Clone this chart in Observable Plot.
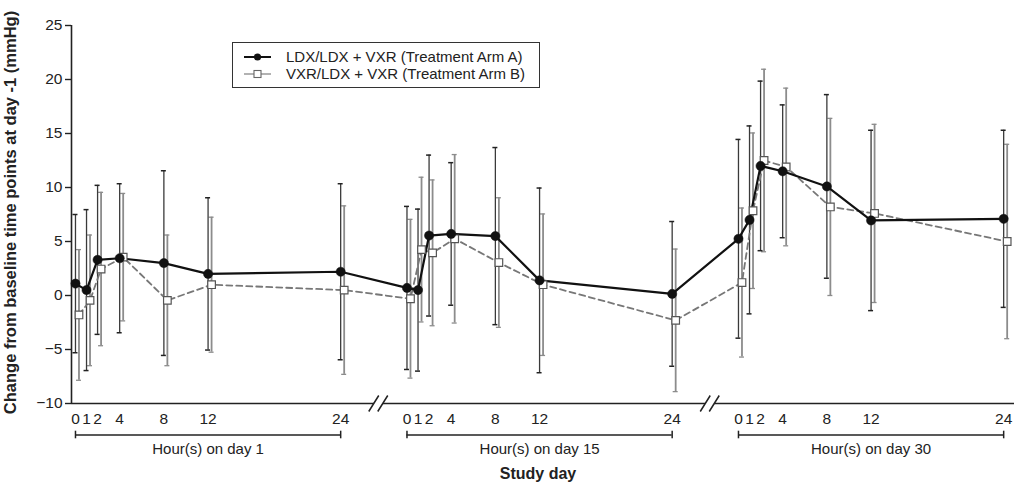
<!DOCTYPE html>
<html>
<head>
<meta charset="utf-8">
<script src="https://cdn.jsdelivr.net/npm/d3@7"></script>
<script src="https://cdn.jsdelivr.net/npm/@observablehq/plot@0.6"></script>
<style>
  body { margin: 0; background: #fff; font-family: "Liberation Sans", Arial, sans-serif; }
  #wrap { position: relative; width: 1014px; height: 488px; overflow: hidden; }
  #legend { position: absolute; left: 232px; top: 42px; width: 306px; height: 44px;
            border: 1.5px solid #333; background: #fff; }
  #legend .row { position: absolute; left: 0; height: 16px; line-height: 16px;
                 font-size: 15px; color: #222; white-space: nowrap; }
  #legend svg { position: absolute; left: 10px; top: 2px; }
  #legend span { position: absolute; left: 53px; top: 0; }
</style>
</head>
<body>
<div id="wrap"></div>
<script>
// ---- data ----
const hours = [0, 1, 2, 4, 8, 12, 24];
const studyDays = [1, 15, 30];
const panelOffsets = [0, 30, 60];      // hour-0 of each study day on the broken axis
const axisBreaks = [27.4, 57.4];       // "//" break marks on the broken axis
const armLabels = ["LDX/LDX + VXR (Treatment Arm A)", "VXR/LDX + VXR (Treatment Arm B)"];
const yTicks = [-10, -5, 0, 5, 10, 15, 20, 25];
const yLabel = "Change from baseline time points at day -1 (mmHg)";
const xLabel = "Study day";

// Arm A (mean, SD) — day 1, day 15, day 30
const armAMean = [
  1.1, 0.5, 3.3, 3.45, 3.0, 2.0, 2.2,
  0.7, 0.5, 5.55, 5.7, 5.5, 1.4, 0.15,
  5.25, 7.0, 12.0, 11.5, 10.1, 6.95, 7.1
];
const armASD = [
  6.4, 7.45, 6.9, 6.9, 8.55, 7.05, 8.15,
  7.55, 7.5, 7.45, 6.6, 8.2, 8.55, 6.7,
  9.2, 8.7, 7.85, 6.15, 8.5, 8.35, 8.2
];
// Arm B (mean, SD)
const armBMean = [
  -1.8, -0.45, 2.45, 3.55, -0.45, 1.0, 0.5,
  -0.3, 4.25, 3.95, 5.25, 3.05, 1.0, -2.3,
  1.2, 7.85, 12.5, 11.9, 8.2, 7.6, 5.0
];
const armBSD = [
  6.05, 6.05, 7.1, 5.9, 6.05, 6.25, 7.8,
  7.35, 6.7, 6.75, 7.8, 6.0, 6.55, 6.6,
  6.9, 7.2, 8.45, 7.3, 8.2, 8.25, 9.0
];

// ---- build tables ----
function buildRows(means, sds) {
  const rows = [];
  panelOffsets.forEach((off, p) => {
    hours.forEach((h, i) => {
      const k = p * hours.length + i;
      rows.push({x: off + h, hour: h, mean: means[k], lo: means[k] - sds[k], hi: means[k] + sds[k]});
    });
  });
  return rows;
}
const A = buildRows(armAMean, armASD);
const B = buildRows(armBMean, armBSD);
const panels = studyDays.map((d, p) => ({day: d, start: panelOffsets[p] + hours[0], end: panelOffsets[p] + hours[hours.length - 1]}));
const panelEnds = panels.flatMap(p => [p.start, p.end]);
const xTickValues = panelOffsets.flatMap(o => hours.map(h => o + h));
const tickLabel = new Map(panelOffsets.flatMap(o => hours.map(h => [o + h, String(h)])));

const xDomain = [-0.36, 84.98];
const yDomain = [yTicks[0], yTicks[yTicks.length - 1]];
const yMin = () => yDomain[0];

// custom symbols for the axis break "//"
const breakMask = {draw(ctx) { ctx.moveTo(-9.5, 8); ctx.lineTo(0.5, -8); ctx.lineTo(9.5, -8); ctx.lineTo(-0.5, 8); ctx.closePath(); }};
const breakSlashes = {draw(ctx) { ctx.moveTo(-9.5, 8); ctx.lineTo(0.5, -8); ctx.moveTo(-0.5, 8); ctx.lineTo(9.5, -8); }};

const bOff = 3.5;   // Arm B drawn slightly to the right
const ink = "#222";

const chart = Plot.plot({
  width: 1014,
  height: 488,
  marginLeft: 71,
  marginRight: 0,
  marginTop: 25,
  marginBottom: 85,
  style: {fontFamily: "'Liberation Sans', Arial, sans-serif", color: ink, background: "white", overflow: "visible"},
  x: {domain: xDomain},
  y: {domain: yDomain},
  marks: [
    // axes
    Plot.axisY({ticks: yTicks, tickSize: 6, tickPadding: 3, fontSize: 15.5, label: null, strokeWidth: 1.4}),
    Plot.axisX({ticks: xTickValues, tickFormat: d => tickLabel.get(d), tickSize: 0, tickPadding: 9, fontSize: 15.5, label: null}),
    Plot.ruleX([xDomain[0]], {stroke: ink, strokeWidth: 1.6}),
    Plot.ruleY([yDomain[0]], {stroke: ink, strokeWidth: 1.6}),
    Plot.dot(axisBreaks, {x: d => d, y: yMin, symbol: breakMask, r: 5, fill: "white", stroke: "none"}),
    Plot.dot(axisBreaks, {x: d => d, y: yMin, symbol: breakSlashes, r: 5, fill: "none", stroke: ink, strokeWidth: 1.5}),

    // panel brackets + labels
    Plot.ruleY(panels, {x1: "start", x2: "end", y: yMin, dy: 31.5, stroke: ink, strokeWidth: 1.5}),
    Plot.ruleX(panelEnds, {x: d => d, y1: yMin, y2: yMin, insetTop: -3.8, insetBottom: -3.8, dy: 31.5, stroke: ink, strokeWidth: 1.5}),
    Plot.text(panels, {x: d => (d.start + d.end) / 2, y: yMin, dy: 45.5, text: d => `Hour(s) on day ${d.day}`, fontSize: 15, fill: ink}),
    Plot.text([xLabel], {frameAnchor: "bottom", dy: 75, dx: -5, fontSize: 16, fontWeight: "bold", fill: ink}),
    Plot.text([yLabel], {frameAnchor: "left", textAnchor: "middle", rotate: -90, dx: -61, dy: -2, fontSize: 16.5, fontWeight: "bold", fill: ink}),

    // error bars
    Plot.ruleX(B, {x: "x", y1: "lo", y2: "hi", dx: bOff, stroke: "#8c8c8c", strokeWidth: 1.8}),
    Plot.ruleY(B, {x1: "x", x2: "x", y: "lo", dx: bOff, insetLeft: -2.5, insetRight: -2.5, stroke: "#8c8c8c", strokeWidth: 1.3}),
    Plot.ruleY(B, {x1: "x", x2: "x", y: "hi", dx: bOff, insetLeft: -2.5, insetRight: -2.5, stroke: "#8c8c8c", strokeWidth: 1.3}),
    Plot.ruleX(A, {x: "x", y1: "lo", y2: "hi", stroke: "#3a3a3a", strokeWidth: 1.3}),
    Plot.ruleY(A, {x1: "x", x2: "x", y: "lo", insetLeft: -2.5, insetRight: -2.5, stroke: "#222", strokeWidth: 1.5}),
    Plot.ruleY(A, {x1: "x", x2: "x", y: "hi", insetLeft: -2.5, insetRight: -2.5, stroke: "#222", strokeWidth: 1.5}),

    // lines
    Plot.line(B, {x: "x", y: "mean", dx: bOff, stroke: "#777", strokeWidth: 1.8, strokeDasharray: "6,4"}),
    Plot.line(A, {x: "x", y: "mean", stroke: "#111", strokeWidth: 2.2}),

    // markers
    Plot.dot(B, {x: "x", y: "mean", dx: bOff, symbol: "square", r: 4.3, fill: "white", stroke: "#555", strokeWidth: 1.2}),
    Plot.dot(A, {x: "x", y: "mean", r: 4.6, fill: "#111", stroke: "#111", strokeWidth: 0.5})
  ]
});

const wrap = document.getElementById("wrap");
wrap.appendChild(chart);

// legend (HTML overlay inside the plot area)
const legend = document.createElement("div");
legend.id = "legend";
const rowCenters = [14, 30.5];
armLabels.forEach((label, i) => {
  const row = document.createElement("div");
  row.className = "row";
  row.style.top = (rowCenters[i] - 8) + "px";
  const sym = i === 0
    ? `<svg width="30" height="12"><line x1="1" y1="6" x2="28" y2="6" stroke="#111" stroke-width="2"/><circle cx="14.5" cy="6" r="3.6" fill="#111"/></svg>`
    : `<svg width="30" height="12"><line x1="1" y1="6" x2="28" y2="6" stroke="#888" stroke-width="1.3"/><rect x="11" y="2.5" width="7" height="7" fill="white" stroke="#666" stroke-width="1.1"/></svg>`;
  row.innerHTML = sym + `<span>${label}</span>`;
  legend.appendChild(row);
});
wrap.appendChild(legend);
</script>
</body>
</html>
